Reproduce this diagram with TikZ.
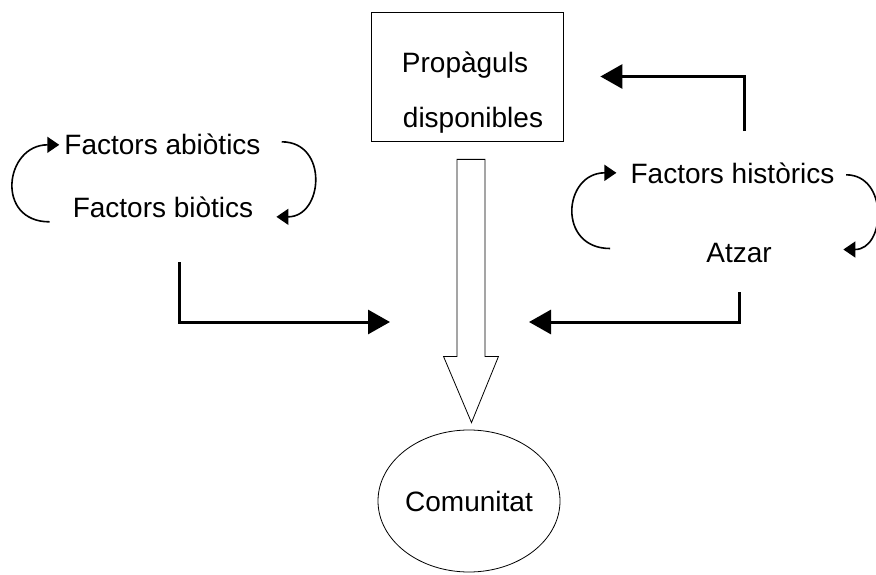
\documentclass[tikz,border=0pt]{standalone}
\usepackage{fontspec}
\setmainfont{Liberation Sans}
\usetikzlibrary{arrows.meta, shapes.geometric, calc}

\begin{document}
\begin{tikzpicture}[x=1pt, y=-1pt,
        % Set global font size for consistency
        font=\fontsize{28}{34}\selectfont,
        % Define reusable styles for different elements of the diagram
        txt/.style={inner sep=0pt, anchor=base},
        stockbox/.style={draw, line width=0.8pt, minimum width=192pt, minimum height=129pt, inner sep=0pt},
        result/.style={draw, ellipse, line width=0.8pt, minimum width=182pt, minimum height=142pt, inner sep=0pt},
        flow/.style={draw, line width=0.8pt, fill=white, line join=miter},
        push/.style={line width=3pt, -{Triangle[length=22pt, width=24pt]}},
        loopback/.style={line width=1.6pt, -{Triangle[length=12pt, width=16pt]}}
    ]

    \useasboundingbox (0,0) rectangle (876,575);

    % Propagules and community
    \node[stockbox] (box) at (467,76.5) {};
    \node[txt] (prop1) at (465,73) {Propàguls};
    \node[txt] (prop2) at (473,128) {disponibles};
    \node[result] (comm) at (469,501) {Comunitat};

    % Factors
    \node[txt] (abio) at (162.5,155) {Factors abiòtics};
    \node[txt] (bio) at (163,217) {Factors biòtics};
    \node[txt] (hist) at (732.5,183) {Factors històrics};
    \node[txt] (atzar) at (739,262) {Atzar};

    % Hollow arrow from the box down to the community
    \coordinate (flowtop) at ($(box.south)+(4,18)$);
    \coordinate (flowtip) at ($(comm.north)+(2.5,-7)$);
    \draw[flow] ($(flowtop)+(-14,0)$) -- ($(flowtop)+(14,0)$) -- ($(flowtop)+(14,197)$)
        -- ($(flowtop)+(27.5,197)$) -- (flowtip) -- ($(flowtop)+(-27.5,197)$)
        -- ($(flowtop)+(-14,197)$) -- cycle;

    % Thick arrows
    \coordinate (inL) at (390,322);
    \coordinate (inR) at (529,322);
    \draw[push] ($(bio.south)+(16,45)$) |- (inL);
    \draw[push] ($(atzar.south)+(0,30)$) |- (inR);
    \draw[push] ($(hist.north)+(11.5,-31)$) |- ($(box.east)+(37,0)$);

    % Loops between the factors
    \draw[loopback] ([shift={(-23,15)}]bio.west) to[out=180, in=180, looseness=1.8] ([xshift=-5]abio.west);
    \draw[loopback] ([shift={(21,-3)}]abio.east) to[out=0, in=0, looseness=1.6] ([shift={(23,10)}]bio.east);
    \draw[loopback] ([shift={(-96,-4)}]atzar.west) to[out=180, in=180, looseness=1.8] ([xshift=-14]hist.west);
    \draw[loopback] ([shift={(11.5,2)}]hist.east) to[out=0, in=0, looseness=1.45] ([shift={(71.5,-3)}]atzar.east);

\end{tikzpicture}
\end{document}
